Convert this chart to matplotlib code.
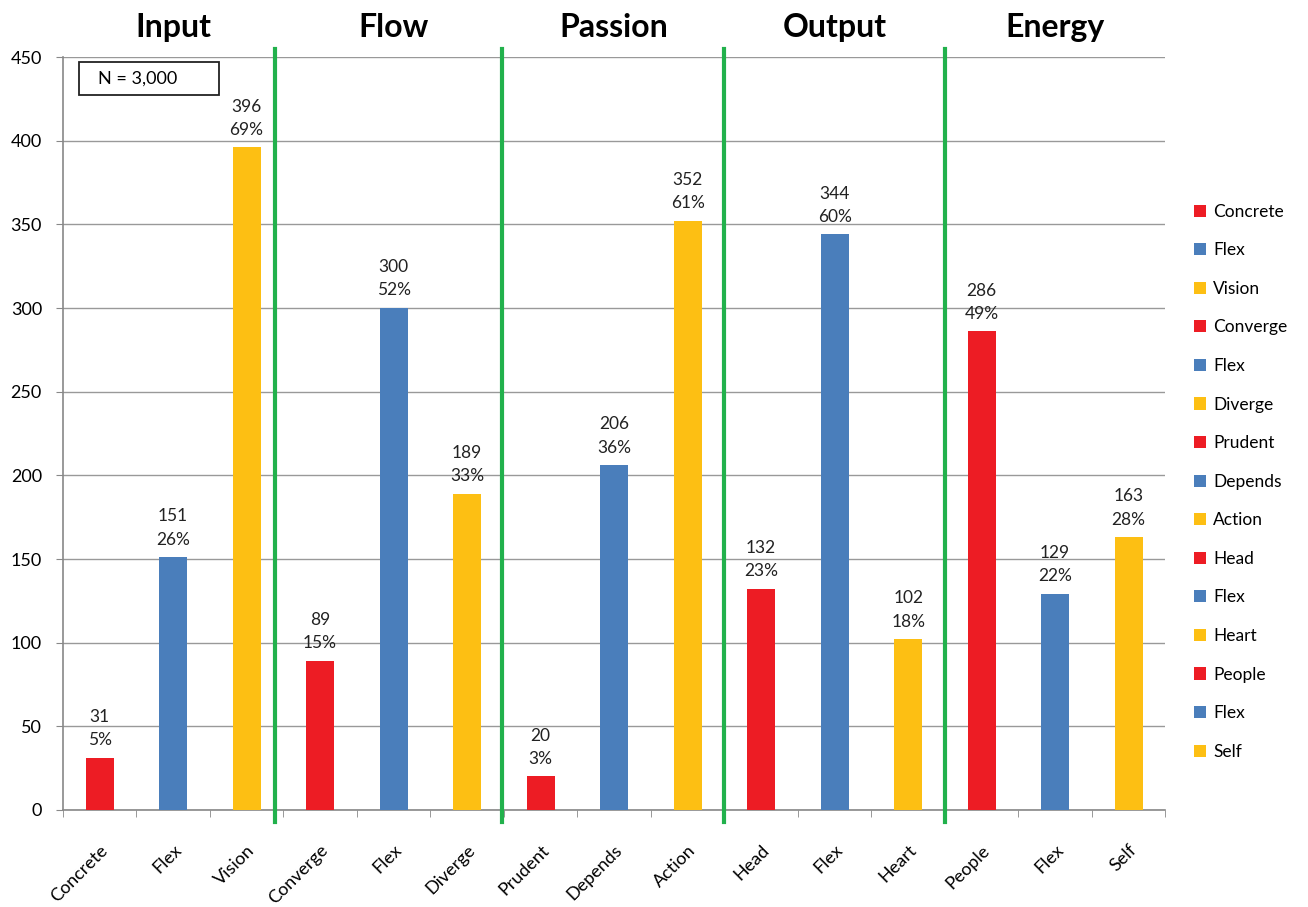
import numpy as np
import matplotlib
matplotlib.use('Agg')
from matplotlib import pyplot as plt
from matplotlib.patches import Rectangle

plt.rcParams['font.family'] = ['Lato', 'DejaVu Sans']

categories = ['Concrete', 'Flex', 'Vision', 'Converge', 'Flex', 'Diverge',
              'Prudent', 'Depends', 'Action', 'Head', 'Flex', 'Heart',
              'People', 'Flex', 'Self']
counts = [31, 151, 396, 89, 300, 189, 20, 206, 352, 132, 344, 102, 286, 129, 163]
percents = ['5%', '26%', '69%', '15%', '52%', '33%', '3%', '36%', '61%',
            '23%', '60%', '18%', '49%', '22%', '28%']
groups = ['Input', 'Flow', 'Passion', 'Output', 'Energy']
dividers = [2.39, 5.47, 8.5, 11.5]

red, blue, yellow = '#ED1C24', '#4A7EBB', '#FDBF13'
colors = [red, blue, yellow] * 5

fig = plt.figure(figsize=(13.08, 9.07), dpi=100)
ax = fig.add_axes([0.048, 0.107, 0.843, 0.830])

x = np.arange(len(categories))
bars = ax.bar(x, counts, width=0.38, color=colors, zorder=3)

# value and share above each bar
for xi, c, p in zip(x, counts, percents):
    ax.annotate(f'{c}\n{p}', (xi, c), xytext=(0, 7), textcoords='offset points',
                ha='center', va='bottom', fontsize=12.5, linespacing=1.55,
                color='#222222')

ax.set_xlim(-0.5, len(categories) - 0.5)
ax.set_ylim(0, 450)
ax.set_yticks(np.arange(0, 451, 50))
ax.yaxis.grid(True, color='#999999', linewidth=1.0, zorder=0)
ax.tick_params(axis='y', labelsize=13, length=5, color='#888888', pad=10)

ax.set_xticks(x)
ax.set_xticklabels(categories, rotation=45, ha='right', rotation_mode='anchor',
                   fontsize=13)
ax.set_xticks(np.arange(-0.5, len(categories), 1), minor=True)
ax.tick_params(axis='x', which='major', length=0, pad=23)
ax.tick_params(axis='x', which='minor', length=5, color='#888888')

for side in ['top', 'right']:
    ax.spines[side].set_visible(False)
for side in ['left', 'bottom']:
    ax.spines[side].set_color('#888888')
    ax.spines[side].set_linewidth(1.2)

# group separators
for d in dividers:
    ax.plot([d, d], [-7, 455], color='#22B14C', linewidth=3, zorder=4,
            clip_on=False)

# group headings
for i, g in enumerate(groups):
    ax.text(3 * i + 1, 468, g, ha='center', va='center', fontsize=23,
            fontweight='bold')

# sample size box
ax.add_patch(Rectangle((0.0145, 0.9495), 0.127, 0.0438, transform=ax.transAxes,
                       facecolor='white', edgecolor='#222222', linewidth=1.3,
                       zorder=5))
ax.text(0.068, 0.9714, 'N = 3,000', transform=ax.transAxes, ha='center',
        va='center', fontsize=13, zorder=6)

ax.legend(bars, categories, loc='center left', bbox_to_anchor=(1.012, 0.436),
          frameon=False, fontsize=12.5, handlelength=0.7, handleheight=0.7,
          labelspacing=1.3, handletextpad=0.4)

fig.savefig('out.png', dpi=100)
